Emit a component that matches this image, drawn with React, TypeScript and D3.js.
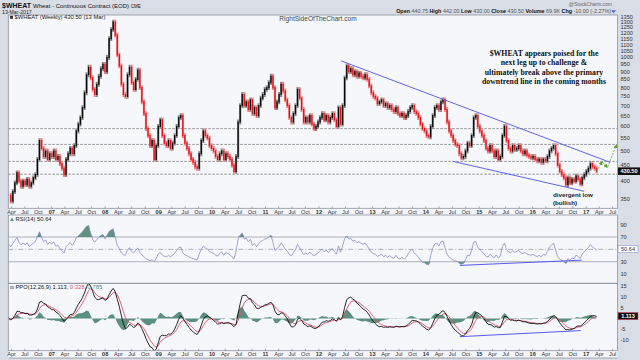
import React, { useEffect, useRef } from 'react';
import * as d3 from 'd3';

const WIDTH = 640;
const HEIGHT = 360;

// weekly chart, read every second week from 13-Mar-2006 to 13-Mar-2017
const firstDate = new Date(2006, 2, 13);
const stepDays = 14;
const closes = [
  360, 345, 370, 395, 425, 400, 385, 400, 390, 405, 385, 395, 410, 420, 470, 540, 510, 480, 500, 470,
  490, 480, 500, 470, 480, 455, 440, 420, 470, 490, 510, 490, 520, 580, 610, 640, 690, 770, 880, 930,
  860, 790, 760, 820, 870, 920, 950, 900, 1000, 1150, 1230, 1300, 1180, 1020, 940, 820, 760, 750, 880, 930,
  830, 790, 850, 910, 800, 720, 660, 590, 560, 520, 540, 470, 520, 600, 630, 560, 530, 520, 540, 510,
  530, 560, 600, 640, 650, 560, 530, 510, 490, 470, 460, 445, 440, 490, 540, 580, 560, 550, 520, 510,
  500, 480, 470, 490, 500, 470, 490, 480, 470, 450, 430, 480, 620, 700, 760, 700, 720, 680, 730, 660,
  690, 650, 700, 740, 760, 790, 800, 830, 870, 800, 690, 720, 760, 820, 780, 730, 700, 640, 620, 660,
  700, 790, 740, 680, 620, 640, 620, 650, 610, 590, 600, 620, 640, 660, 630, 650, 620, 640, 660, 630,
  600, 690, 610, 700, 860, 940, 900, 920, 880, 900, 870, 890, 870, 860, 880, 850, 810, 770, 750, 740,
  710, 720, 730, 700, 710, 690, 700, 680, 670, 690, 660, 650, 660, 640, 650, 670, 690, 700, 670, 660,
  640, 610, 590, 580, 560, 555, 600, 650, 690, 700, 680, 720, 730, 680, 620, 580, 560, 540, 525, 520,
  490, 475, 480, 500, 530, 520, 560, 640, 650, 600, 580, 560, 540, 510, 500, 520, 500, 480, 500, 470,
  480, 560, 600, 540, 510, 500, 520, 505, 510, 520, 500, 490, 500, 485, 480, 475, 480, 470, 465, 470,
  460, 470, 465, 480, 500, 510, 520, 490, 450, 430, 420, 410, 390, 410, 395, 405, 400, 415, 405, 392,
  410, 420, 430, 440, 455, 445, 440, 430.5,
];

const priceTicks = [350, 400, 450, 500, 550, 600, 650, 700, 750, 800, 850, 900, 950, 1000, 1050, 1100, 1150, 1200, 1250, 1300, 1350];
const levelLines = [590, 525, 463, 421];
const upperTrend = [{ date: new Date(2012, 5, 1), value: 975 }, { date: new Date(2017, 5, 12), value: 460 }];
const lowerTrend = [{ date: new Date(2014, 6, 5), value: 463 }, { date: new Date(2016, 11, 18), value: 371 }];
const projection = [
  [{ date: new Date(2017, 2, 13), value: 430.5 }, { date: new Date(2017, 3, 20), value: 462 }],
  [{ date: new Date(2017, 3, 24), value: 460 }, { date: new Date(2017, 4, 24), value: 443 }],
  [{ date: new Date(2017, 4, 28), value: 445 }, { date: new Date(2017, 6, 27), value: 523 }],
];
const rsiTicks = [90, 70, 30, 10];
const rsiDivergence = [{ date: new Date(2014, 7, 21), value: 24 }, { date: new Date(2016, 11, 1), value: 32.5 }];
const ppoTicks = [15, 10, 5, -5, -10];
const ppoDivergence = [{ date: new Date(2014, 7, 21), value: -8.4 }, { date: new Date(2016, 10, 24), value: -5.6 }];
const quote = [['Open', '440.75'], ['High', '442.00'], ['Low', '430.00'], ['Close', '430.50'], ['Volume', '69.9K'], ['Chg', '-10.00 (-2.27%)']];
const annotation = [
  '$WHEAT  appears poised for the',
  'next leg up to challenge &',
  'ultimately break above the primary',
  'downtrend line in the coming months',
];
const divergenceNote = ['divergent low', '(bullish)'];
const lastRsi = '50.64';
const ppoValues = ['1.113', '0.328', '0.785'];

const SANS = 'Liberation Sans, Arial, sans-serif';
const SERIF = 'Liberation Serif, Times New Roman, serif';

function ema(values: number[], n: number) {
  const a = 2 / (n + 1);
  const out: number[] = [];
  values.forEach((v, i) => out.push(i === 0 ? v : a * v + (1 - a) * out[i - 1]));
  return out;
}

export default function App() {
  const svgRef = useRef<SVGSVGElement>(null);

  useEffect(() => {
    if (!svgRef.current) return;
    const svg = d3.select(svgRef.current);
    svg.selectAll('*').remove();

    const L = 8.3, R = 617.5;
    const P = { top: 15, bottom: 208.3 };
    const RS = { top: 215, bottom: 283.3 };
    const PP = { top: 283.3, bottom: 350.7 };

    const dates = closes.map((_, i) => d3.timeDay.offset(firstDate, i * stepDays));
    const x = d3.scaleTime().domain([new Date(2006, 2, 10), new Date(2017, 7, 3)]).range([L, R]);
    const y = d3.scaleLog().domain([327, 1370]).range([P.bottom, P.top]);
    const yR = d3.scaleLinear().domain([-5, 105.7]).range([RS.bottom, RS.top]);
    const yP = d3.scaleLinear().domain([-14.9, 16.3]).range([PP.bottom, PP.top]);

    // indicators on the bi-weekly closes (Wilder RSI, seeded with the first period's means)
    const period = 11;
    const diffs = closes.slice(1).map((c, i) => c - closes[i]);
    let ag = d3.mean(diffs.slice(0, period), d => Math.max(d, 0))!;
    let al = d3.mean(diffs.slice(0, period), d => Math.max(-d, 0))!;
    const rsi: number[] = [100 - 100 / (1 + ag / al)];
    diffs.forEach(d => {
      ag = (ag * (period - 1) + Math.max(d, 0)) / period;
      al = (al * (period - 1) + Math.max(-d, 0)) / period;
      rsi.push(100 - 100 / (1 + ag / al));
    });
    const fast = ema(closes, 6);
    const slow = ema(closes, 13);
    const ppo = fast.map((f, i) => ((f - slow[i]) / slow[i]) * 100);
    const signal = ema(ppo, 4.5);
    const hist = ppo.map((p, i) => p - signal[i]);

    // frame
    svg.append('rect').attr('width', WIDTH).attr('height', HEIGHT).attr('fill', '#d9dde5');
    svg.append('rect').attr('x', L).attr('y', P.top).attr('width', R - L).attr('height', 358 - P.top).attr('fill', '#f5f7fb');

    const defs = svg.append('defs');
    [['clipP', P], ['clipR', RS], ['clipPP', PP]].forEach(([id, b]: any) => {
      defs.append('clipPath').attr('id', id)
        .append('rect').attr('x', L).attr('y', b.top).attr('width', R - L).attr('height', b.bottom - b.top);
    });
    defs.append('marker').attr('id', 'arrow').attr('viewBox', '0 0 10 10').attr('refX', 8).attr('refY', 5)
      .attr('markerWidth', 5).attr('markerHeight', 5).attr('orient', 'auto')
      .append('path').attr('d', 'M0,0L10,5L0,10z').attr('fill', '#5c9a2c');

    // ---------- price panel ----------
    const gP = svg.append('g').attr('clip-path', 'url(#clipP)');
    levelLines.forEach(v => {
      gP.append('line').attr('x1', L).attr('x2', R).attr('y1', y(v)).attr('y2', y(v))
        .attr('stroke', '#7a7a7a').attr('stroke-width', 0.8).attr('stroke-dasharray', '2.5,1.5');
    });

    const bars = closes.slice(1).map((c, k) => ({ date: dates[k + 1], prev: closes[k], close: c }));
    gP.selectAll('line.halo').data(bars).enter().append('line').attr('class', 'halo')
      .attr('x1', d => x(d.date)).attr('x2', d => x(d.date))
      .attr('y1', d => Math.min(y(d.prev), y(d.close)) - 2.4)
      .attr('y2', d => Math.max(y(d.prev), y(d.close)) + 2.4)
      .attr('stroke', d => (d.close >= d.prev ? '#8c8c8c' : '#f08a8a')).attr('stroke-width', 2.2);
    gP.selectAll('line.bar').data(bars).enter().append('line').attr('class', 'bar')
      .attr('x1', d => x(d.date)).attr('x2', d => x(d.date))
      .attr('y1', d => Math.min(y(d.prev), y(d.close)) - 0.6)
      .attr('y2', d => Math.max(y(d.prev), y(d.close)) + 0.6)
      .attr('stroke', d => (d.close >= d.prev ? '#0a0a0a' : '#e3121b')).attr('stroke-width', 1.3);

    [upperTrend, lowerTrend].forEach(t => {
      gP.append('line').attr('x1', x(t[0].date)).attr('y1', y(t[0].value))
        .attr('x2', x(t[1].date)).attr('y2', y(t[1].value))
        .attr('stroke', '#6464ee').attr('stroke-width', 1);
    });
    projection.forEach(s => {
      svg.append('line').attr('x1', x(s[0].date)).attr('y1', y(s[0].value))
        .attr('x2', x(s[1].date)).attr('y2', y(s[1].value))
        .attr('stroke', '#5c9a2c').attr('stroke-width', 0.8).attr('stroke-dasharray', '2,1.2')
        .attr('marker-end', 'url(#arrow)');
    });

    // ---------- RSI panel ----------
    const gR = svg.append('g').attr('clip-path', 'url(#clipR)');
    [70, 30].forEach(v => gR.append('line').attr('x1', L).attr('x2', R).attr('y1', yR(v)).attr('y2', yR(v))
      .attr('stroke', '#9ca0aa').attr('stroke-width', 0.8));
    gR.append('line').attr('x1', L).attr('x2', R).attr('y1', yR(50)).attr('y2', yR(50))
      .attr('stroke', '#9ca0aa').attr('stroke-width', 0.8).attr('stroke-dasharray', '5,2,1,2');
    const rsiPts = rsi.map((v, i) => ({ date: dates[i], v }));
    gR.append('path').datum(rsiPts)
      .attr('d', d3.area<any>().x(d => x(d.date)).y0(yR(70)).y1(d => yR(Math.max(d.v, 70))))
      .attr('fill', '#5f9080');
    gR.append('path').datum(rsiPts)
      .attr('d', d3.area<any>().x(d => x(d.date)).y0(yR(30)).y1(d => yR(Math.min(d.v, 30))))
      .attr('fill', '#5f9080');
    gR.append('path').datum(rsiPts)
      .attr('d', d3.line<any>().x(d => x(d.date)).y(d => yR(d.v)))
      .attr('fill', 'none').attr('stroke', '#8a8fc6').attr('stroke-width', 0.8);
    gR.append('line').attr('x1', x(rsiDivergence[0].date)).attr('y1', yR(rsiDivergence[0].value))
      .attr('x2', x(rsiDivergence[1].date)).attr('y2', yR(rsiDivergence[1].value))
      .attr('stroke', '#5a5aee').attr('stroke-width', 1);

    // ---------- PPO panel ----------
    const gPP = svg.append('g').attr('clip-path', 'url(#clipPP)');
    const ppoPts = dates.map((d, i) => ({ date: d, ppo: ppo[i], sig: signal[i], h: hist[i] }));
    gPP.append('path').datum(ppoPts)
      .attr('d', d3.area<any>().x(d => x(d.date)).y0(yP(0)).y1(d => yP(d.h)))
      .attr('fill', '#5b8f7e');
    gPP.append('path').datum(ppoPts)
      .attr('d', d3.line<any>().x(d => x(d.date)).y(d => yP(d.sig)))
      .attr('fill', 'none').attr('stroke', '#e0506a').attr('stroke-width', 0.9);
    gPP.append('path').datum(ppoPts)
      .attr('d', d3.line<any>().x(d => x(d.date)).y(d => yP(d.ppo)))
      .attr('fill', 'none').attr('stroke', '#111').attr('stroke-width', 0.9);
    gPP.append('line').attr('x1', x(ppoDivergence[0].date)).attr('y1', yP(ppoDivergence[0].value))
      .attr('x2', x(ppoDivergence[1].date)).attr('y2', yP(ppoDivergence[1].value))
      .attr('stroke', '#5a5aee').attr('stroke-width', 1);

    // panel borders
    [P, RS, PP].forEach(b => {
      svg.append('rect').attr('x', L).attr('y', b.top).attr('width', R - L).attr('height', b.bottom - b.top)
        .attr('fill', 'none').attr('stroke', '#8d929c').attr('stroke-width', 0.8);
    });
    svg.append('line').attr('x1', L).attr('x2', R).attr('y1', 358).attr('y2', 358).attr('stroke', '#8d929c').attr('stroke-width', 0.8);

    // x axes
    const qTicks = d3.timeMonth.every(3)!.range(new Date(2006, 3, 1), new Date(2017, 7, 1));
    [[P.bottom, 214.2], [PP.bottom, 356.4]].forEach(([yb, yl]) => {
      qTicks.forEach(t => {
        const xx = x(t);
        svg.append('line').attr('x1', xx).attr('x2', xx).attr('y1', yb - 2).attr('y2', yb)
          .attr('stroke', '#777').attr('stroke-width', 0.6);
        const isYear = t.getMonth() === 0;
        svg.append('text').attr('x', xx).attr('y', yl).attr('text-anchor', 'middle')
          .attr('font-family', SANS).attr('font-size', 5.6).attr('fill', '#333')
          .attr('font-weight', isYear ? 'bold' : 'normal')
          .text(isYear ? d3.timeFormat('%y')(t) : d3.timeFormat('%b')(t));
      });
    });

    // right axes
    const axisText = (yy: number, s: string) => svg.append('text').attr('x', 620.5).attr('y', yy).attr('dy', '0.35em')
      .attr('font-family', SANS).attr('font-size', 5.6).attr('fill', '#333').text(s);
    priceTicks.forEach(v => axisText(y(v), String(v)));
    rsiTicks.forEach(v => axisText(yR(v), String(v)));
    ppoTicks.forEach(v => axisText(yP(v), String(v)));

    const lastClose = closes[closes.length - 1];
    svg.append('rect').attr('x', 618).attr('y', y(lastClose) - 3.8).attr('width', 22).attr('height', 7.6).attr('fill', '#111');
    svg.append('text').attr('x', 629).attr('y', y(lastClose)).attr('dy', '0.35em').attr('text-anchor', 'middle')
      .attr('font-family', SANS).attr('font-size', 5.6).attr('font-weight', 'bold').attr('fill', '#fff').text(lastClose.toFixed(2));
    svg.append('rect').attr('x', 618).attr('y', yR(50.64) - 3.6).attr('width', 20).attr('height', 7.2)
      .attr('fill', '#fff').attr('stroke', '#8a8fc6').attr('stroke-width', 0.6);
    svg.append('text').attr('x', 628).attr('y', yR(50.64)).attr('dy', '0.35em').attr('text-anchor', 'middle')
      .attr('font-family', SANS).attr('font-size', 5.6).attr('fill', '#333').text(lastRsi);
    svg.append('rect').attr('x', 618).attr('y', yP(1.113) - 3.6).attr('width', 20).attr('height', 7.2)
      .attr('fill', '#111').attr('stroke', '#e0506a').attr('stroke-width', 0.6);
    svg.append('text').attr('x', 628).attr('y', yP(1.113)).attr('dy', '0.35em').attr('text-anchor', 'middle')
      .attr('font-family', SANS).attr('font-size', 5.6).attr('font-weight', 'bold').attr('fill', '#fff').text(ppoValues[0]);

    // header
    const h1 = svg.append('text').attr('x', 2).attr('y', 7.5).attr('font-family', SANS).attr('fill', '#111');
    h1.append('tspan').attr('font-size', 7).attr('font-weight', 'bold').text('$WHEAT ');
    h1.append('tspan').attr('font-size', 6).text('Wheat - Continuous Contract (EOD) ');
    h1.append('tspan').attr('font-size', 4.5).text('CME');
    svg.append('text').attr('x', 2).attr('y', 13.6).attr('font-family', SANS).attr('font-size', 5.2).attr('fill', '#222').text('13-Mar-2017');
    svg.append('text').attr('x', 612).attr('y', 6).attr('text-anchor', 'end').attr('font-family', SANS)
      .attr('font-size', 5).attr('fill', '#666').text('@StockCharts.com');
    const q = svg.append('text').attr('x', 611).attr('y', 12.8).attr('text-anchor', 'end').attr('font-family', SANS).attr('font-size', 5.4);
    quote.forEach(([k, v]) => {
      q.append('tspan').attr('font-weight', 'bold').attr('fill', '#111').text(k + ' ');
      q.append('tspan').attr('fill', '#555').text(v + '  ');
    });
    svg.append('path').attr('d', 'M611,10.2L616,10.2L613.5,13.2z').attr('fill', '#5566cc');

    // panel labels
    svg.append('rect').attr('x', 10).attr('y', 15.8).attr('width', 3).attr('height', 3).attr('fill', '#333');
    svg.append('text').attr('x', 14.5).attr('y', 19.4).attr('font-family', SANS).attr('font-size', 5.8).attr('fill', '#222')
      .text('$WHEAT (Weekly) 430.50 (13 Mar)');
    svg.append('text').attr('x', 318).attr('y', 21.2).attr('text-anchor', 'middle').attr('font-family', SANS)
      .attr('font-size', 6.6).attr('fill', '#444').text('RightSideOfTheChart.com');
    svg.append('path').attr('d', 'M10,221L12,217.5L14,221z').attr('fill', '#5f9080');
    svg.append('text').attr('x', 15.5).attr('y', 221).attr('font-family', SANS).attr('font-size', 5.8).attr('fill', '#222')
      .text('RSI(14) ' + lastRsi);
    svg.append('path').attr('d', 'M10,286.8H14M10,288.2H14').attr('stroke', '#333').attr('stroke-width', 0.6);
    const pl = svg.append('text').attr('x', 15.5).attr('y', 289.2).attr('font-family', SANS).attr('font-size', 5.8);
    pl.append('tspan').attr('fill', '#222').text(`PPO(12,26,9) ${ppoValues[0]}, `);
    pl.append('tspan').attr('fill', '#e0506a').text(ppoValues[1]);
    pl.append('tspan').attr('fill', '#222').text(', ');
    pl.append('tspan').attr('fill', '#5b8f7e').text(ppoValues[2]);

    // annotations
    annotation.forEach((s, i) => {
      svg.append('text').attr('x', 544).attr('y', 56 + i * 9.35).attr('text-anchor', 'middle')
        .attr('font-family', SERIF).attr('font-size', 7.8).attr('font-weight', 'bold').attr('fill', '#111').text(s);
    });
    divergenceNote.forEach((s, i) => {
      svg.append('text').attr('x', 553).attr('y', 197 + i * 7.5)
        .attr('font-family', SANS).attr('font-size', 6.2).attr('font-weight', 'bold').attr('fill', '#222').text(s);
    });
  }, []);

  return (
    <div style={{ position: 'fixed', left: 0, top: 0, width: WIDTH, height: HEIGHT }}>
      <svg ref={svgRef} width={WIDTH} height={HEIGHT} style={{ display: 'block' }} />
    </div>
  );
}
